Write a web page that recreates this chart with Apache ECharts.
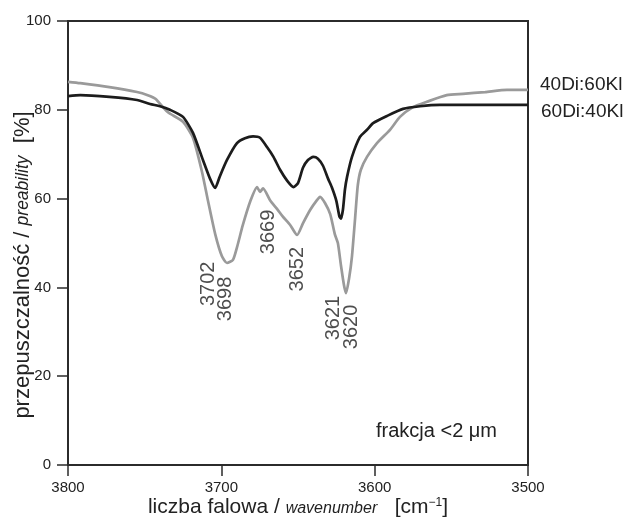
<!DOCTYPE html>
<html>
<head>
<meta charset="utf-8">
<script src="https://cdn.jsdelivr.net/npm/echarts@6/dist/echarts.min.js"></script>
<style>
  html, body { margin: 0; padding: 0; background: #fff; }
  #chart { width: 631px; height: 520px; }
</style>
</head>
<body>
<div id="chart"></div>
<script>
// IR transmission spectra in the OH-stretching region, clay fraction <2 µm
const wavenumbers40 = [3800, 3792, 3773, 3755, 3748, 3743, 3735, 3725, 3718.5, 3712.6, 3708.7, 3704, 3699.6, 3696.3, 3692.4, 3689.8, 3686, 3681, 3676.7, 3674.8, 3672.8, 3668, 3663.7, 3660, 3655, 3650.6, 3646.7, 3642, 3638, 3635.6, 3632.4, 3629, 3626, 3624, 3622, 3620, 3618.7, 3616.7, 3614.8, 3612.8, 3611, 3609, 3605, 3598.5, 3590, 3583.5, 3575, 3566, 3553, 3542.4, 3528, 3513.7, 3500];
const series40Di60Kl = [86.3, 86, 85.1, 84, 83.3, 82.5, 79.5, 77.3, 73.7, 66, 59.5, 52, 47, 45.5, 46.2, 49, 54, 59.5, 62.6, 61.5, 62.3, 59.5, 57.7, 56, 54, 51.8, 54.5, 57.5, 59.5, 60.4, 59, 56.5, 52, 50, 45, 40.5, 38.7, 42, 47, 55.4, 63, 66.5, 69.4, 72.5, 75.5, 78.4, 80.6, 81.8, 83.3, 83.6, 84, 84.5, 84.5];

const wavenumbers60 = [3800, 3792, 3773, 3755, 3746.5, 3740, 3733.5, 3725, 3718.5, 3712, 3707.4, 3704, 3701, 3696.3, 3689.8, 3684.6, 3679.3, 3674.8, 3670, 3666, 3661.7, 3657, 3653, 3650, 3646.7, 3643.5, 3640, 3637, 3633.7, 3630.4, 3628, 3625, 3623, 3622, 3620.7, 3619.4, 3618, 3614.8, 3609.6, 3605, 3601, 3592, 3581.5, 3570.4, 3557.4, 3544.3, 3500];
const series60Di40Kl = [83.1, 83.3, 82.9, 82.2, 81.3, 80.8, 80, 78.4, 74.8, 68.7, 64.5, 62.4, 65, 68.7, 72.5, 73.6, 74, 73.7, 71.5, 69.4, 66.5, 64, 62.6, 63.5, 67, 68.7, 69.4, 69, 67.4, 64.5, 62.6, 59.5, 56, 55.5, 57.5, 62, 64.9, 69.4, 73.9, 75.5, 77, 78.6, 80.2, 80.8, 81.1, 81.1, 81.1];

// Band assignments written beside the absorption minima
const bandLabels = ['3702', '3698', '3669', '3652', '3621', '3620'];
const bandLabelX = [3708.7, 3697.6, 3669, 3650.3, 3626.6, 3615];
const bandLabelY = [40.8, 37.4, 52.5, 44.1, 33.1, 31.1];

const xTicks = [3800, 3700, 3600, 3500];
const yTicks = [0, 20, 40, 60, 80, 100];

const FONT = '"Liberation Sans", Arial, Helvetica, sans-serif';
const AXIS_COLOR = '#2b2b2b';

const zip = (xs, ys) => xs.map((x, i) => [x, ys[i]]);

const chart = echarts.init(document.getElementById('chart'), null, { renderer: 'canvas' });

chart.setOption({
  animation: false,
  backgroundColor: '#ffffff',
  textStyle: { fontFamily: FONT },
  grid: {
    left: 68, right: 103, top: 21, bottom: 55,
    containLabel: false,
    outerBoundsMode: 'none',
    show: true, borderColor: AXIS_COLOR, borderWidth: 2, backgroundColor: 'transparent'
  },
  xAxis: {
    type: 'value',
    min: xTicks[xTicks.length - 1],
    max: xTicks[0],
    interval: 100,
    inverse: true,
    splitLine: { show: false },
    axisLine: { show: true, onZero: false, lineStyle: { color: AXIS_COLOR, width: 2 } },
    axisTick: { show: true, inside: false, length: 11, lineStyle: { color: AXIS_COLOR, width: 1.5 } },
    axisLabel: { color: '#222', fontSize: 15, margin: 15, fontFamily: FONT, formatter: v => String(v) },
    name: '{n|liczba falowa / }{i|wavenumber}{n|   [cm}{s|−1}{n|]}',
    nameLocation: 'middle',
    nameGap: 32,
    nameMoveOverlap: false,
    nameTextStyle: {
      rich: {
        n: { fontSize: 21, color: '#222', fontFamily: FONT },
        i: { fontSize: 16, fontStyle: 'italic', color: '#222', fontFamily: FONT, padding: [3, 0, 0, 0] },
        s: { fontSize: 12, color: '#222', fontFamily: FONT, padding: [0, 0, 9, 0] }
      }
    }
  },
  yAxis: {
    type: 'value',
    min: 0,
    max: 100,
    interval: 20,
    splitLine: { show: false },
    axisLine: { show: true, onZero: false, lineStyle: { color: AXIS_COLOR, width: 2 } },
    axisTick: { show: true, inside: false, length: 11, lineStyle: { color: AXIS_COLOR, width: 1.5 } },
    axisLabel: { color: '#222', fontSize: 15, margin: 17, fontFamily: FONT, formatter: v => String(v) },
    name: '{n|przepuszczalność / }{i|preability}{n|  [%]}',
    nameLocation: 'middle',
    nameGap: 34,
    nameMoveOverlap: false,
    nameTextStyle: {
      padding: [0, 44, 0, 0],
      rich: {
        n: { fontSize: 22, color: '#222', fontFamily: FONT },
        i: { fontSize: 17.5, fontStyle: 'italic', color: '#222', fontFamily: FONT }
      }
    }
  },
  series: [
    {
      name: '40Di:60Kl',
      type: 'line',
      data: zip(wavenumbers40, series40Di60Kl),
      showSymbol: false,
      smooth: 0.2,
      lineStyle: { color: '#9a9a9a', width: 2.7 },
      z: 2
    },
    {
      name: '60Di:40Kl',
      type: 'line',
      data: zip(wavenumbers60, series60Di40Kl),
      showSymbol: false,
      smooth: 0.2,
      lineStyle: { color: '#1c1c1c', width: 2.7 },
      z: 3
    },
    {
      name: 'bands',
      type: 'scatter',
      data: bandLabels.map((t, i) => ({ value: [bandLabelX[i], bandLabelY[i]], name: t })),
      symbolSize: 0,
      silent: true,
      label: {
        show: true,
        position: 'inside',
        rotate: 90,
        formatter: p => p.name,
        color: '#222',
        fontSize: 20,
        fontFamily: FONT
      },
      z: 4
    }
  ],
  graphic: [
    {
      type: 'text', left: 540, top: 75,
      style: { text: '40Di:60Kl', fill: '#222', font: '19px ' + FONT }
    },
    {
      type: 'text', left: 541, top: 102,
      style: { text: '60Di:40Kl', fill: '#222', font: '19px ' + FONT }
    },
    {
      type: 'text', left: 376, top: 421,
      style: { text: 'frakcja <2 μm', fill: '#222', font: '20px ' + FONT }
    }
  ]
});
</script>
</body>
</html>
